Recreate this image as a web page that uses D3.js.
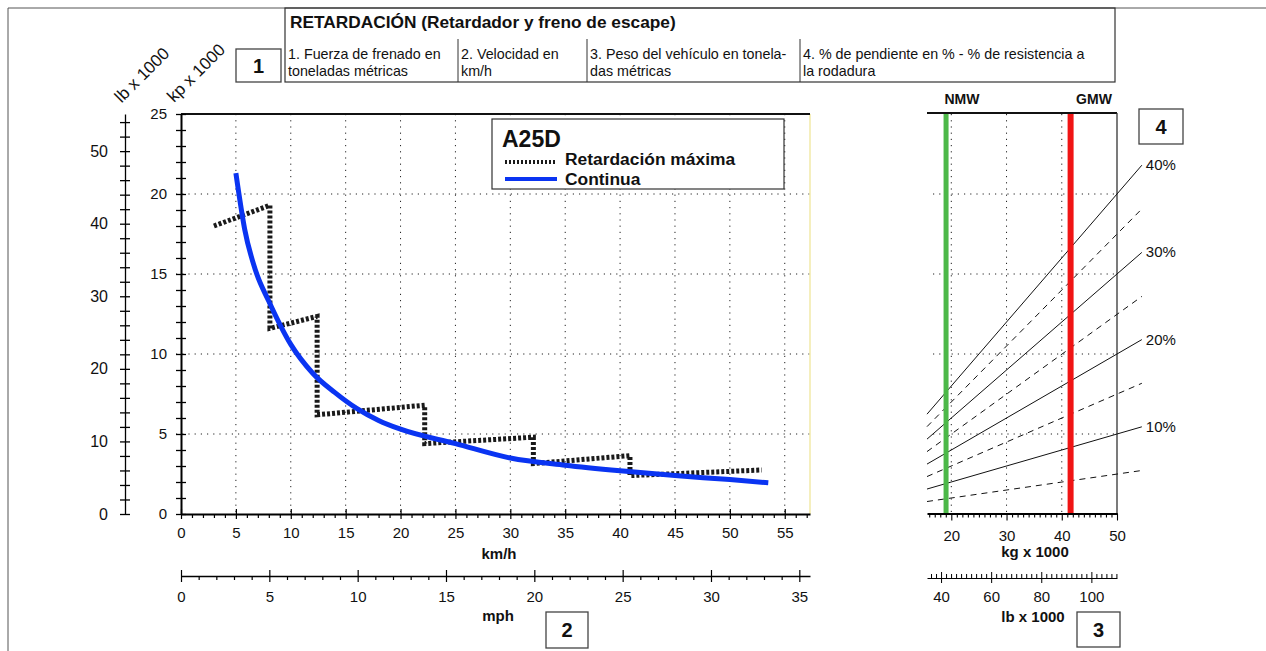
<!DOCTYPE html>
<html>
<head>
<meta charset="utf-8">
<script src="https://cdn.jsdelivr.net/npm/d3@7"></script>
<style>
  body { margin: 0; background: #fff; }
  text { font-family: "Liberation Sans", Arial, sans-serif; fill: #111; }
</style>
</head>
<body>
<div id="grafica"></div>
<script>
// datos leidos de la grafica
// curva continua (km/h -> kp x 1000)
const velContinua = [5, 5.8, 6.8, 8, 10, 12, 14, 16, 18, 20, 25, 30, 35, 40, 45, 50, 53.5];
const fuerzaContinua = [21.3, 17.8, 15.2, 13.3, 10.6, 8.8, 7.6, 6.6, 5.85, 5.3, 4.4, 3.5, 3.05, 2.7, 2.4, 2.15, 1.95];

// retardacion maxima (escalones)
const velMaxima = [3, 8.1, 8.1, 12.4, 12.4, 22.2, 22.2, 32.1, 32.1, 40.9, 40.9, 52.9];
const fuerzaMaxima = [18.0, 19.3, 11.6, 12.35, 6.2, 6.8, 4.4, 4.8, 3.15, 3.65, 2.4, 2.75];

// pendientes (peso en kg x 1000 -> fuerza kp x 1000)
const pendientes = [5, 10, 15, 20, 25, 30, 35, 40];
const pesoExtremos = [15.6, 54.5];
const fuerzaPendIzq = [0.78, 1.56, 2.34, 3.12, 3.9, 4.68, 5.46, 6.24];
const fuerzaPendDer = [2.72, 5.45, 8.17, 10.9, 13.6, 16.35, 19.07, 21.8];

// pesos marcados
const pesoNMW = 19.05;
const pesoGMW = 41.6;

// etiquetas de ejes
const kpLabels = [0, 5, 10, 15, 20, 25];
const lbLabels = [0, 10, 20, 30, 40, 50];
const kmhLabels = [0, 5, 10, 15, 20, 25, 30, 35, 40, 45, 50, 55];
const mphLabels = [0, 5, 10, 15, 20, 25, 30, 35];
const kgLabels = [20, 30, 40, 50];
const lbRLabels = [40, 60, 80, 100];

const columnas = [
  ["1. Fuerza de frenado en", "toneladas métricas"],
  ["2. Velocidad en", "km/h"],
  ["3. Peso del vehículo en tonela-", "das métricas"],
  ["4. % de pendiente en % - % de resistencia a", "la rodadura"]
];

// conversiones de unidades
const KG_LB = 2.20462;
const KMH_MPH = 1.609344;

const svg = d3.select("#grafica").append("svg")
  .attr("width", 1266)
  .attr("height", 651);

// escalas
const xKmh = d3.scaleLinear().domain([0, 57.3]).range([181, 810]);
const yKp = d3.scaleLinear().domain([0, 25]).range([514, 114]);
const yLb = d3.scaleLinear().domain([0, 25 * KG_LB]).range([514, 114]);
const xMph = d3.scaleLinear().domain([0, 57.3 / KMH_MPH]).range([181, 810]);
const xKg = d3.scaleLinear().domain([15.6, 50]).range([927, 1117]);
const xLbR = d3.scaleLinear().domain([15.6 * KG_LB, 50 * KG_LB]).range([927, 1117]);

// marco
svg.append("line").attr("x1", 8).attr("x2", 1266).attr("y1", 8).attr("y2", 8)
  .attr("stroke", "#555").attr("stroke-width", 1);
svg.append("line").attr("x1", 8).attr("x2", 8).attr("y1", 8).attr("y2", 651)
  .attr("stroke", "#555").attr("stroke-width", 1);

// encabezado
svg.append("rect").attr("x", 285).attr("y", 8).attr("width", 830).attr("height", 74)
  .attr("fill", "none").attr("stroke", "#333").attr("stroke-width", 1.2);
svg.append("text").attr("x", 290).attr("y", 28)
  .style("font-size", "17.3px").style("font-weight", "bold")
  .text("RETARDACIÓN (Retardador y freno de escape)");
const colX = [285, 458, 587, 800];
colX.forEach((cx, i) => {
  if (i > 0) {
    svg.append("line").attr("x1", cx).attr("x2", cx).attr("y1", 39).attr("y2", 82)
      .attr("stroke", "#333").attr("stroke-width", 1);
  }
  columnas[i].forEach((t, j) => {
    svg.append("text").attr("x", cx + 3).attr("y", 59 + j * 17)
      .style("font-size", "14.3px").text(t);
  });
});

// cajas numeradas
function caja(x, y, w, h, t) {
  svg.append("rect").attr("x", x).attr("y", y).attr("width", w).attr("height", h)
    .attr("fill", "#fff").attr("stroke", "#444").attr("stroke-width", 1.3);
  svg.append("text").attr("x", x + w / 2).attr("y", y + h / 2 + 7)
    .attr("text-anchor", "middle")
    .style("font-size", "20px").style("font-weight", "bold").text(t);
}
caja(236, 49, 45, 33, "1");
caja(546, 612, 42, 36, "2");
caja(1077, 612, 43, 35, "3");
caja(1139, 109, 44, 35, "4");

// ---------- grafica principal ----------
const dots = "1.2,5";

// rejilla
svg.append("g").selectAll("line")
  .data(kmhLabels.filter(d => d > 0)).enter()
  .append("line")
  .attr("x1", d => xKmh(d)).attr("x2", d => xKmh(d))
  .attr("y1", yKp(25)).attr("y2", yKp(0))
  .attr("stroke", "#222").attr("stroke-width", 1).attr("stroke-dasharray", dots);
svg.append("g").selectAll("line")
  .data(kpLabels.filter(d => d > 0 && d < 25)).enter()
  .append("line")
  .attr("x1", 176).attr("x2", 810)
  .attr("y1", d => yKp(d)).attr("y2", d => yKp(d))
  .attr("stroke", "#222").attr("stroke-width", 1).attr("stroke-dasharray", dots);

// borde derecho (amarillo) y superior
svg.append("line").attr("x1", 810).attr("x2", 810).attr("y1", 114).attr("y2", 514)
  .attr("stroke", "#f2eaa8").attr("stroke-width", 1.5);
svg.append("line").attr("x1", 181).attr("x2", 810).attr("y1", 114).attr("y2", 114)
  .attr("stroke", "#111").attr("stroke-width", 2);

// eje kp
const ejeKp = svg.append("g").attr("transform", "translate(181,0)")
  .call(d3.axisLeft(yKp).tickValues(d3.range(0, 26, 1)).tickSize(5).tickSizeOuter(0).tickPadding(9)
    .tickFormat(d => kpLabels.includes(d) ? d : ""));
ejeKp.select(".domain").attr("stroke-width", 2);
ejeKp.selectAll(".tick line").attr("x1", 5).attr("stroke-width", 1.3);
ejeKp.selectAll("text").style("font-size", "15px");

// eje lb
const ejeLb = svg.append("g").attr("transform", "translate(125,0)")
  .call(d3.axisLeft(yLb).tickValues(d3.range(0, 55, 2)).tickSize(5).tickSizeOuter(0).tickPadding(12)
    .tickFormat(d => lbLabels.includes(d) ? d : ""));
ejeLb.select(".domain").attr("stroke-width", 1.3);
ejeLb.selectAll(".tick line").attr("x1", 5).attr("stroke-width", 1.3);
ejeLb.selectAll("text").style("font-size", "16px");

svg.append("text").attr("transform", "translate(146,79) rotate(-45)")
  .attr("text-anchor", "middle").style("font-size", "17px").text("lb x 1000");
svg.append("text").attr("transform", "translate(200,77) rotate(-45)")
  .attr("text-anchor", "middle").style("font-size", "17px").text("kp x 1000");

// eje km/h
const ejeKmh = svg.append("g").attr("transform", "translate(0,514)")
  .call(d3.axisBottom(xKmh).tickValues(d3.range(0, 58, 1)).tickSize(4).tickSizeOuter(0).tickPadding(9)
    .tickFormat(d => kmhLabels.includes(d) ? d : ""));
ejeKmh.select(".domain").attr("stroke-width", 2);
ejeKmh.selectAll(".tick line").attr("stroke-width", 1.2)
  .filter(d => d % 5 === 0).attr("y1", -5).attr("y2", 5);
ejeKmh.selectAll("text").style("font-size", "15px");
svg.append("text").attr("x", 499).attr("y", 559).attr("text-anchor", "middle")
  .style("font-size", "15px").style("font-weight", "bold").text("km/h");

// eje mph
const ejeMph = svg.append("g").attr("transform", "translate(0,576)")
  .call(d3.axisBottom(xMph).tickValues(d3.range(0, 36, 1)).tickSize(4).tickSizeOuter(0).tickPadding(11)
    .tickFormat(d => mphLabels.includes(d) ? d : ""));
ejeMph.select(".domain").attr("stroke-width", 1.5);
ejeMph.selectAll(".tick line").attr("stroke-width", 1.2)
  .filter(d => d % 5 === 0).attr("y1", -6).attr("y2", 6);
ejeMph.selectAll("text").style("font-size", "15px");
svg.append("text").attr("x", 498).attr("y", 621).attr("text-anchor", "middle")
  .style("font-size", "15px").style("font-weight", "bold").text("mph");

// lineas de datos
const lineaKmh = d3.line().x(d => xKmh(d[0])).y(d => yKp(d[1]));
const lineaSuave = d3.line().curve(d3.curveMonotoneX).x(d => xKmh(d[0])).y(d => yKp(d[1]));

svg.append("path")
  .datum(velMaxima.map((v, i) => [v, fuerzaMaxima[i]]))
  .attr("d", lineaKmh)
  .attr("fill", "none").attr("stroke", "#1a1a1a").attr("stroke-width", 5)
  .attr("stroke-dasharray", "3,2");

svg.append("path")
  .datum(velContinua.map((v, i) => [v, fuerzaContinua[i]]))
  .attr("d", lineaSuave)
  .attr("fill", "none").attr("stroke", "#0a34f2").attr("stroke-width", 5);

// leyenda
svg.append("rect").attr("x", 492).attr("y", 119).attr("width", 292).attr("height", 70)
  .attr("fill", "#fff").attr("stroke", "#333").attr("stroke-width", 1.2);
svg.append("text").attr("x", 502).attr("y", 147)
  .style("font-size", "23px").style("font-weight", "bold").text("A25D");
svg.append("line").attr("x1", 505).attr("x2", 557).attr("y1", 162).attr("y2", 162)
  .attr("stroke", "#1a1a1a").attr("stroke-width", 4).attr("stroke-dasharray", "2,2");
svg.append("line").attr("x1", 505).attr("x2", 557).attr("y1", 179).attr("y2", 179)
  .attr("stroke", "#0a34f2").attr("stroke-width", 4);
svg.append("text").attr("x", 565).attr("y", 165)
  .style("font-size", "17.4px").style("font-weight", "bold").text("Retardación máxima");
svg.append("text").attr("x", 565).attr("y", 185)
  .style("font-size", "17.4px").style("font-weight", "bold").text("Continua");

// ---------- panel derecho ----------
svg.append("g").selectAll("line")
  .data(kgLabels.filter(d => d < 50)).enter()
  .append("line")
  .attr("x1", d => xKg(d)).attr("x2", d => xKg(d))
  .attr("y1", yKp(25)).attr("y2", yKp(0))
  .attr("stroke", "#222").attr("stroke-width", 1).attr("stroke-dasharray", dots);
svg.append("g").selectAll("line")
  .data(kpLabels.filter(d => d > 0 && d < 25)).enter()
  .append("line")
  .attr("x1", 933).attr("x2", 1117)
  .attr("y1", d => yKp(d)).attr("y2", d => yKp(d))
  .attr("stroke", "#222").attr("stroke-width", 1).attr("stroke-dasharray", dots);

svg.append("line").attr("x1", 927).attr("x2", 1117).attr("y1", 113).attr("y2", 113)
  .attr("stroke", "#111").attr("stroke-width", 2);
svg.append("line").attr("x1", 1117).attr("x2", 1117).attr("y1", 113).attr("y2", 514)
  .attr("stroke", "#333").attr("stroke-width", 1.3);

// lineas de pendiente
const lineaPeso = d3.line().x(d => xKg(d[0])).y(d => yKp(d[1]));
svg.append("g").selectAll("path")
  .data(pendientes.map((p, i) => ({
    p: p,
    pts: [[pesoExtremos[0], fuerzaPendIzq[i]], [pesoExtremos[1], fuerzaPendDer[i]]]
  }))).enter()
  .append("path")
  .attr("d", d => lineaPeso(d.pts))
  .attr("fill", "none").attr("stroke", "#111").attr("stroke-width", 1)
  .attr("stroke-dasharray", d => d.p % 10 === 0 ? null : "6,5");

svg.append("g").selectAll("text")
  .data(pendientes.map((p, i) => ({ p: p, f: fuerzaPendDer[i] })).filter(d => d.p % 10 === 0)).enter()
  .append("text")
  .attr("x", xKg(pesoExtremos[1]) + 4)
  .attr("y", d => yKp(d.f) + 5)
  .style("font-size", "15px")
  .text(d => d.p + "%");

// NMW / GMW
svg.append("line").attr("x1", xKg(pesoNMW)).attr("x2", xKg(pesoNMW))
  .attr("y1", 114).attr("y2", 513).attr("stroke", "#4cb848").attr("stroke-width", 5);
svg.append("line").attr("x1", xKg(pesoGMW)).attr("x2", xKg(pesoGMW))
  .attr("y1", 114).attr("y2", 513).attr("stroke", "#f01414").attr("stroke-width", 6);
svg.append("text").attr("x", 962).attr("y", 104).attr("text-anchor", "middle")
  .style("font-size", "14px").style("font-weight", "bold").text("NMW");
svg.append("text").attr("x", 1094).attr("y", 104).attr("text-anchor", "middle")
  .style("font-size", "14px").style("font-weight", "bold").text("GMW");

// eje kg
const ejeKg = svg.append("g").attr("transform", "translate(0,513.5)")
  .call(d3.axisBottom(xKg).tickValues(d3.range(16, 51, 1)).tickSize(4).tickSizeOuter(0).tickPadding(13)
    .tickFormat(d => kgLabels.includes(d) ? d : ""));
ejeKg.select(".domain").attr("stroke-width", 1.8);
ejeKg.selectAll(".tick line").attr("stroke-width", 1.1)
  .filter(d => d % 10 === 0).attr("y2", 7);
ejeKg.selectAll("text").style("font-size", "15px");
svg.append("text").attr("x", 1035).attr("y", 557).attr("text-anchor", "middle")
  .style("font-size", "15px").style("font-weight", "bold").text("kg x 1000");

// eje lb (derecha)
const ejeLbR = svg.append("g").attr("transform", "translate(0,578)")
  .call(d3.axisBottom(xLbR).tickValues(d3.range(36, 111, 2)).tickSize(5).tickSizeOuter(0).tickPadding(8)
    .tickFormat(d => lbRLabels.includes(d) ? d : ""));
ejeLbR.select(".domain").attr("stroke-width", 1.2);
ejeLbR.selectAll(".tick line").attr("stroke-width", 1)
  .attr("y1", 0).attr("y2", -4)
  .filter(d => d % 20 === 0).attr("y1", -6).attr("y2", 5);
ejeLbR.selectAll("text").style("font-size", "15px");
svg.append("text").attr("x", 1033).attr("y", 622).attr("text-anchor", "middle")
  .style("font-size", "15px").style("font-weight", "bold").text("lb x 1000");
</script>
</body>
</html>
